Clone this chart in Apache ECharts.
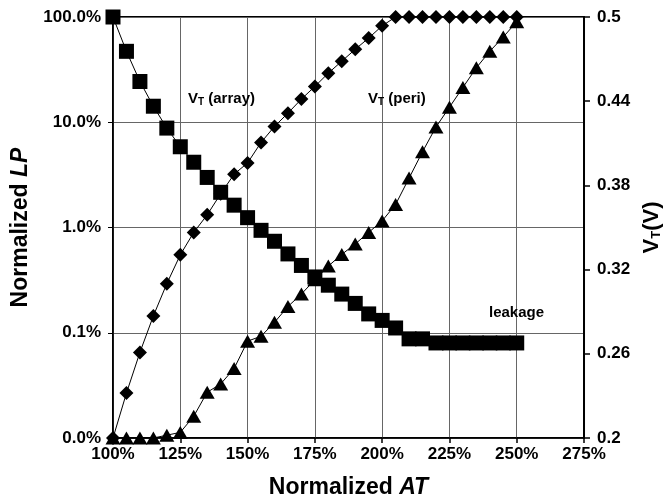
<!DOCTYPE html>
<html>
<head>
<meta charset="utf-8">
<script src="https://cdn.jsdelivr.net/npm/echarts@6/dist/echarts.min.js"></script>
<style>html,body{margin:0;padding:0;background:#fff;}#c{width:671px;height:504px;}</style>
</head>
<body>
<div id="c"></div>
<script>
const xValues = [100,105,110,115,120,125,130,135,140,145,150,155,160,165,170,175,180,185,190,195,200,205,210,215,220,225,230,235,240,245,250];
const leakage = [100,47.2,24.4,14.2,8.8,5.85,4.17,2.99,2.16,1.63,1.24,0.94,0.74,0.561,0.436,0.339,0.283,0.233,0.19,0.151,0.131,0.111,0.0875,0.0875,0.08,0.08,0.08,0.08,0.08,0.08,0.08];
const vtArray = [0.2,0.232,0.261,0.287,0.310,0.3305,0.3465,0.359,0.374,0.388,0.396,0.4106,0.422,0.4315,0.4415,0.4505,0.46,0.4685,0.477,0.485,0.4937,0.5,0.5,0.5,0.5,0.5,0.5,0.5,0.5,0.5,0.5];
const vtPeri = [0.2,0.2,0.2,0.2,0.202,0.204,0.2155,0.2326,0.2385,0.2495,0.269,0.2725,0.2824,0.2937,0.3026,0.3127,0.3225,0.3308,0.3383,0.3465,0.3547,0.3664,0.3852,0.404,0.4216,0.4357,0.4498,0.4638,0.4756,0.4857,0.4967];
const rightTicks = [0.2,0.26,0.32,0.38,0.44,0.5];

const FONT = 'Liberation Sans';
const pair = arr => xValues.map((x,i)=>[x,arr[i]]);
const chart = echarts.init(document.getElementById('c'));
chart.setOption({
  animation:false,
  backgroundColor:'#fff',
  grid:{left:113,right:83,top:17,bottom:61,show:true,borderColor:'#000',borderWidth:2},
  xAxis:{
    type:'value',min:100,max:275,interval:25,
    name:'{a|Normalized }{b|AT}',nameLocation:'middle',nameGap:38,
    nameTextStyle:{rich:{a:{fontFamily:FONT,fontWeight:'bold',fontSize:23,color:'#000'},b:{fontFamily:FONT,fontWeight:'bold',fontStyle:'italic',fontSize:23,color:'#000'}}},
    axisLine:{lineStyle:{color:'#000',width:1.5}},
    axisTick:{show:true,length:5,lineStyle:{color:'#000',width:1.5}},
    axisLabel:{formatter:v=>v+'%',fontFamily:FONT,fontWeight:'bold',fontSize:17,color:'#000',margin:8},
    splitLine:{show:true,lineStyle:{color:'#666',width:1}}
  },
  yAxis:[{
    type:'log',logBase:10,min:0.01,max:100,position:'left',
    name:'{a|Normalized }{b|LP}',nameLocation:'middle',nameGap:78,nameRotate:90,
    nameTextStyle:{rich:{a:{fontFamily:FONT,fontWeight:'bold',fontSize:23,color:'#000'},b:{fontFamily:FONT,fontWeight:'bold',fontStyle:'italic',fontSize:23,color:'#000'}}},
    axisLine:{show:true,lineStyle:{color:'#000',width:1.5}},
    axisTick:{show:true,length:5,lineStyle:{color:'#000',width:1}},
    axisLabel:{formatter:v=>Number(v).toFixed(1)+'%',fontFamily:FONT,fontWeight:'bold',fontSize:17,color:'#000',margin:12},
    splitLine:{show:true,lineStyle:{color:'#666',width:1}},
    minorTick:{show:false},minorSplitLine:{show:false}
  },{
    type:'value',min:0.2,max:0.5,position:'right',
    name:'V{s|T}(V)',nameLocation:'middle',nameGap:56,nameRotate:90,
    nameTextStyle:{fontFamily:FONT,fontWeight:'bold',fontSize:22,color:'#000',rich:{s:{fontFamily:FONT,fontWeight:'bold',fontSize:13,color:'#000',verticalAlign:'bottom',padding:[9,0,0,0]}}},
    axisLine:{show:true,lineStyle:{color:'#000',width:2}},
    axisTick:{show:true,length:6,customValues:rightTicks,lineStyle:{color:'#000',width:1.5}},
    axisLabel:{customValues:rightTicks,formatter:v=>String(+Number(v).toFixed(2)),fontFamily:FONT,fontWeight:'bold',fontSize:17,color:'#000',margin:13},
    splitLine:{show:false}
  }],
  series:[{
    name:'leakage',type:'line',yAxisIndex:0,data:pair(leakage),
    symbol:'rect',symbolSize:15,itemStyle:{color:'#000'},lineStyle:{color:'#000',width:1},clip:false,z:3
  },{
    name:'VT (array)',type:'line',yAxisIndex:1,data:pair(vtArray),
    symbol:'diamond',symbolSize:[14,14],itemStyle:{color:'#000'},lineStyle:{color:'#000',width:1},clip:false,z:3
  },{
    name:'VT (peri)',type:'line',yAxisIndex:1,data:pair(vtPeri),
    symbol:'triangle',symbolSize:[15,13],itemStyle:{color:'#000'},lineStyle:{color:'#000',width:1},clip:false,z:3
  }],
  graphic:[
    {type:'text',left:188,top:91,z:10,style:{text:'V{s|T} (array)',font:'bold 15px "Liberation Sans"',fill:'#000',rich:{s:{fontFamily:FONT,fontWeight:'bold',fontSize:10,fill:'#000',verticalAlign:'bottom',padding:[8,0,0,0]}}}},
    {type:'text',left:368,top:91,z:10,style:{text:'V{s|T} (peri)',font:'bold 15px "Liberation Sans"',fill:'#000',rich:{s:{fontFamily:FONT,fontWeight:'bold',fontSize:10,fill:'#000',verticalAlign:'bottom',padding:[8,0,0,0]}}}},
    {type:'text',left:489,top:305,z:10,style:{text:'leakage',font:'bold 15px "Liberation Sans"',fill:'#000'}}
  ]
});
</script>
</body>
</html>
